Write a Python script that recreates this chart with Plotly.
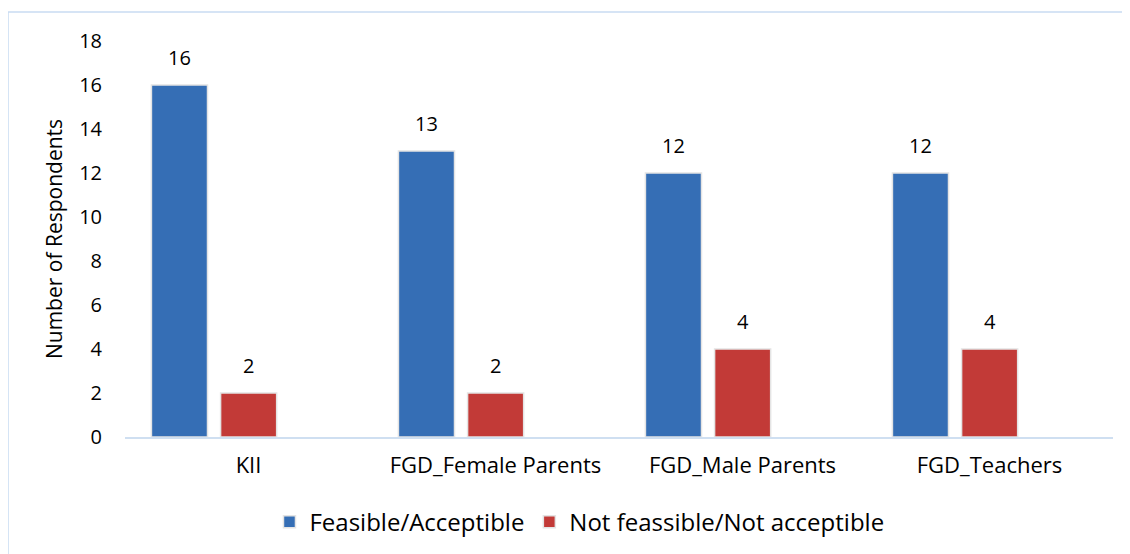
import plotly.graph_objects as go

categories = ["KII", "FGD_Female Parents", "FGD_Male Parents", "FGD_Teachers"]
feasible = [16, 13, 12, 12]
not_feasible = [2, 2, 4, 4]
series_names = ["Feasible/Acceptible", "Not feassible/Not acceptible"]
y_ticks = [0, 2, 4, 6, 8, 10, 12, 14, 16, 18]

FONT = "Open Sans, Calibri, sans-serif"
BLUE = "#356EB5"
RED = "#C23A37"
BAR_W = 0.227

fig = go.Figure()
fig.add_trace(go.Bar(x=categories, y=feasible, name=series_names[0],
                     width=BAR_W, offset=-0.393,
                     marker=dict(color=BLUE, line=dict(color="#e4e4e4", width=1.5))))
fig.add_trace(go.Bar(x=categories, y=not_feasible, name=series_names[1],
                     width=BAR_W, offset=-0.113,
                     marker=dict(color=RED, line=dict(color="#e4e4e4", width=1.5))))

annotations = []
for vals, shift in ((feasible, -69), (not_feasible, 0)):
    for c, v in zip(categories, vals):
        annotations.append(dict(x=c, y=v, xref="x", yref="y", text=str(v),
                                showarrow=False, xshift=shift, yshift=12,
                                yanchor="bottom", font=dict(size=20, color="#000000")))

# page body adds an 8px offset; margins compensate
fig.update_layout(
    width=1130, height=554,
    margin=dict(l=117, r=25, t=33, b=125),
    paper_bgcolor="white", plot_bgcolor="white",
    font=dict(family=FONT, size=18, color="#000000"),
    barmode="overlay",
    showlegend=True,
    legend=dict(orientation="h", x=0.46, xanchor="center", y=-0.215, yanchor="middle",
                font=dict(size=24), itemwidth=30, traceorder="normal"),
    annotations=annotations,
    shapes=[dict(type="rect", xref="paper", yref="paper",
                 x0=-0.1184, x1=1.05, y0=-0.4, y1=1.0732,
                 line=dict(color="#c9dcf2", width=1.5), fillcolor="rgba(0,0,0,0)", layer="below")],
)
fig.update_xaxes(showgrid=False, showline=True, linecolor="#cfdff1", linewidth=2,
                 ticks="", tickfont=dict(size=22), ticklabelstandoff=8)
fig.update_yaxes(range=[0, 18], tickvals=y_ticks, showgrid=False, showline=False,
                 zeroline=False, ticks="", tickfont=dict(size=20), ticklabelstandoff=22,
                 title=dict(text="Number of Respondents", font=dict(size=21), standoff=10))

fig.write_html("out.html")
